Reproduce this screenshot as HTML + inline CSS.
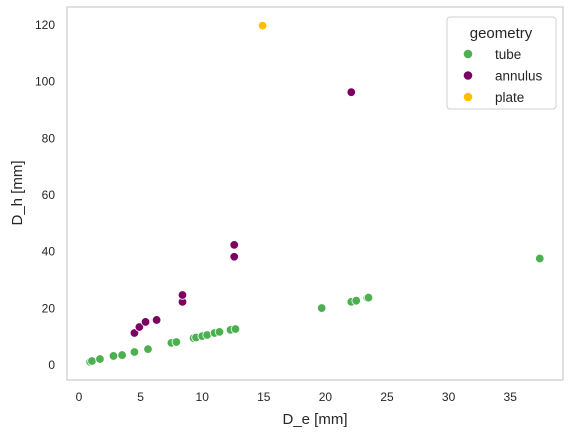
<!DOCTYPE html>
<html><head><meta charset="utf-8"><style>
body{margin:0;background:#fff;font-family:"Liberation Sans",sans-serif;}
</style></head><body>
<svg id="chart" width="573" height="437" xmlns="http://www.w3.org/2000/svg" font-family="Liberation Sans, sans-serif">
<rect x="67" y="7" width="496" height="373" fill="#fff" stroke="#cccccc" stroke-width="1.2"/>
<g id="xticks"></g>
<g id="yticks"></g>
<g id="points"></g>
<text x="315" y="424" font-size="15" fill="#262626" text-anchor="middle">D_e [mm]</text>
<text x="22" y="193" font-size="15" fill="#262626" text-anchor="middle" transform="rotate(-90 22 193)">D_h [mm]</text>
<g>
<rect x="447" y="17" width="109" height="92" rx="3" fill="#fff" stroke="#d0d0d0"/>
<text x="501" y="38" font-size="15" fill="#262626" text-anchor="middle">geometry</text>
<g id="legend-entries"></g>
</g>
</svg>
<script>
const tubeX=[0.9,1.05,1.7,2.8,3.5,4.5,5.6,7.5,7.9,9.3,9.5,10.0,10.4,11.0,11.4,12.3,12.7,19.7,22.1,22.5,23.4,23.5,37.4];
const tubeY=[1.1,1.4,2.1,3.2,3.5,4.6,5.6,7.8,8.1,9.5,9.7,10.2,10.6,11.3,11.7,12.4,12.7,20.1,22.3,22.7,23.7,23.8,37.6];
const annX=[4.5,4.9,5.4,6.3,8.4,8.4,12.6,12.6,22.1];
const annY=[11.3,13.4,15.2,15.9,22.3,24.7,38.2,42.4,96.3];
const plateX=[14.9];
const plateY=[119.8];
const xTicks=[0,5,10,15,20,25,30,35];
const yTicks=[0,20,40,60,80,100,120];
const seriesNames=["tube","annulus","plate"];
const NS="http://www.w3.org/2000/svg";
const xs=v=>79+v*12.32;
const ys=v=>365-v*2.833;
function mk(t,a){const e=document.createElementNS(NS,t);for(const k in a)e.setAttribute(k,a[k]);return e;}
const xg=document.getElementById('xticks');
xTicks.forEach(t=>{const e=mk('text',{x:xs(t),y:401,'font-size':12,fill:'#262626','text-anchor':'middle'});e.textContent=t;


xg.appendChild(e);});
const yg=document.getElementById('yticks');
yTicks.forEach(t=>{const e=mk('text',{x:55,y:ys(t)+4,'font-size':12,fill:'#262626','text-anchor':'end'});e.textContent=t;


yg.appendChild(e);});
const pg=document.getElementById('points');
const colors=["#4caf50","#7b0060","#ffbf00"];
[[tubeX,tubeY],[annX,annY],[plateX,plateY]].forEach((s,i)=>{s[0].forEach((x,j)=>{const c=mk('circle',{cx:xs(x),cy:ys(s[1][j]),r:4.3,fill:colors[i],stroke:'#fff','stroke-width':0.8});


pg.appendChild(c);});});
const lg=document.getElementById('legend-entries');
seriesNames.forEach((n,i)=>{const y=54+i*21.5;
const c=mk('circle',{cx:468,cy:y,r:4.3,fill:colors[i]});


lg.appendChild(c);
const t=mk('text',{x:495,y:y+5,'font-size':13.5,fill:'#262626'});t.textContent=n;


lg.appendChild(t);});
</script>
</body></html>
